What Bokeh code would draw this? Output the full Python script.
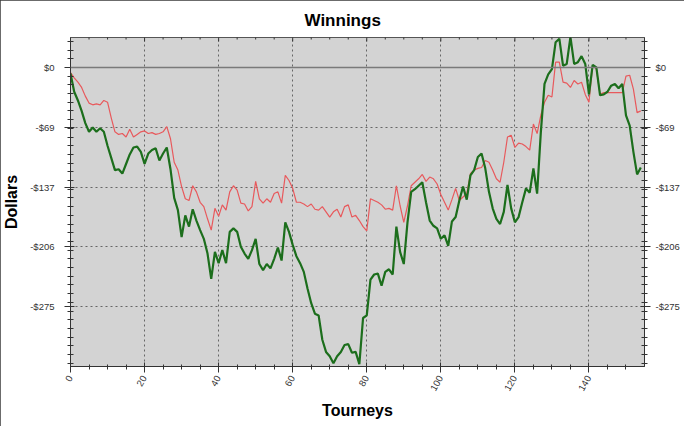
import math
from bokeh.plotting import figure
from bokeh.models import Range1d, FixedTicker, LinearAxis, Span
from bokeh.embed import file_html
from bokeh.resources import INLINE

# ---- data ----
winnings = [
    -7, -28, -38, -50, -64, -74, -69, -74, -70, -74,
    -90, -104, -118, -117, -122, -111, -100, -92, -91, -97,
    -111, -99, -95, -93, -107, -99, -92, -117, -150, -164,
    -195, -170, -183, -163, -176, -187, -197, -214, -243, -212,
    -225, -210, -225, -189, -185, -189, -206, -214, -220, -210,
    -197, -226, -233, -226, -231, -220, -207, -222, -178, -189,
    -204, -217, -225, -235, -254, -271, -283, -285, -313, -327,
    -332, -340, -332, -327, -319, -318, -328, -327, -341, -288,
    -285, -244, -238, -237, -251, -235, -232, -238, -183, -212,
    -226, -178, -143, -140, -136, -132, -155, -176, -182, -185,
    -197, -193, -205, -177, -172, -153, -137, -152, -124, -118,
    -103, -99, -116, -143, -162, -174, -180, -166, -135, -162,
    -178, -172, -155, -139, -144, -116, -145, -75, -19, -8,
    -2, 29, 33, 2, 4, 35, 4, 6, 13, 4,
    -31, 3, 0, -32, -31, -28, -21, -19, -24, -19,
    -55, -67, -97, -123, -115,
]
expected = [
    -6, -12, -17, -23, -33, -41, -43, -42, -43, -38,
    -40, -58, -74, -77, -76, -80, -71, -80, -77, -74,
    -73, -76, -75, -77, -76, -74, -68, -82, -109, -118,
    -137, -151, -153, -136, -143, -155, -160, -174, -187, -162,
    -171, -158, -164, -143, -136, -141, -156, -157, -165, -160,
    -131, -151, -156, -151, -155, -145, -143, -156, -124, -130,
    -139, -155, -155, -157, -160, -157, -163, -164, -160, -166,
    -172, -166, -163, -172, -160, -158, -172, -170, -176, -183,
    -188, -151, -153, -155, -158, -163, -162, -164, -136, -159,
    -178, -159, -136, -132, -128, -123, -131, -126, -128, -134,
    -146, -155, -164, -152, -139, -153, -149, -145, -122, -118,
    -116, -115, -107, -109, -118, -128, -132, -109, -80, -78,
    -92, -87, -88, -91, -95, -65, -76, -55, -40, -32,
    -34, 6, 6, -17, -18, -23, -15, -19, -17, -31,
    -40, 2, -2, -31, -29, -29, -29, -29, -29, -29,
    -10, -9, -25, -52, -50,
]
tourneys = list(range(len(winnings)))

x_ticks = [0, 20, 40, 60, 80, 100, 120, 140]
x_minor_ticks = [5, 10, 15, 25, 30, 35, 45, 50, 55, 65, 70, 75,
                 85, 90, 95, 105, 110, 115, 125, 130, 135, 145, 150]
y_ticks = [0, -68.75, -137.5, -206.25, -275]
y_tick_labels = ["$0", "-$69", "-$137", "-$206", "-$275"]
y_minor_ticks = [30, 20, 10, 0, -10, -20, -30, -40, -50, -60, -70, -80, -90,
                 -100, -110, -120, -130, -140, -150, -160, -170, -180, -190,
                 -200, -210, -220, -230, -240, -250, -260, -270, -280, -290,
                 -300, -310, -320, -330, -340]
x_range = (0, 155)
y_range = (-343.75, 34.375)

FONT = "Liberation Sans"
AX = "#333333"

p = figure(width=684, height=426,
           x_range=Range1d(*x_range), y_range=Range1d(*y_range),
           output_backend="svg", toolbar_location=None,
           min_border_left=66, min_border_right=40,
           min_border_top=37, min_border_bottom=60,
           background_fill_color="#d3d3d3", border_fill_color="white",
           outline_line_color="#555555", outline_line_width=1)
p.styles = {"outline": "1px solid #3a3a3a", "outline-offset": "-1px"}

p.title.text = "Winnings"
p.title.align = "left"
p.title.offset = 234
p.title.vertical_align = "bottom"
p.title.standoff = 15
p.title.text_font = FONT
p.title.text_font_size = "17px"
p.title.text_font_style = "bold"
p.title.text_color = "black"

xt = FixedTicker(ticks=x_ticks, minor_ticks=x_minor_ticks)
yt = FixedTicker(ticks=y_ticks, minor_ticks=y_minor_ticks)
ylab = {t: l for t, l in zip(y_ticks, y_tick_labels)}

def style_axis(ax):
    ax.axis_line_color = AX
    ax.major_tick_line_color = AX
    ax.minor_tick_line_color = AX
    ax.major_label_text_font = FONT
    ax.major_label_text_font_size = "9.5px"
    ax.major_label_text_color = "#333333"
    ax.axis_label_text_font = FONT
    ax.axis_label_text_font_size = "16px"
    ax.axis_label_text_font_style = "bold"
    ax.axis_label_text_color = "black"

# bottom axis
xa = p.below[0]
xa.ticker = xt
style_axis(xa)
xa.axis_label = "Tourneys"
xa.major_label_orientation = math.pi / 3
xa.major_tick_in = 4
xa.major_tick_out = 6
xa.minor_tick_in = 2
xa.minor_tick_out = 3
xa.major_label_standoff = 4
xa.axis_label_standoff = 6

# left axis
ya = p.left[0]
ya.ticker = yt
style_axis(ya)
ya.axis_label = "Dollars"
ya.major_label_overrides = ylab
ya.major_tick_in = 4
ya.major_tick_out = 6
ya.minor_tick_in = 3
ya.minor_tick_out = 3
ya.major_label_standoff = 10
ya.axis_label_standoff = 7

# right axis
ra = LinearAxis(ticker=yt, major_label_overrides=ylab)
style_axis(ra)
ra.major_tick_in = 4
ra.major_tick_out = 6
ra.minor_tick_in = 3
ra.minor_tick_out = 3
ra.major_label_standoff = 5
p.add_layout(ra, "right")

# grid
p.xgrid.ticker = xt
p.ygrid.ticker = yt
for g in (p.xgrid, p.ygrid):
    g.grid_line_color = "#4a4a4a"
    g.grid_line_dash = "2 3"
    g.grid_line_width = 0.8

p.add_layout(Span(location=0, dimension="width", line_color="#7a7a7a",
                  line_width=1.5))

p.line(tourneys, expected, line_color="#e8595c", line_width=1.2)
p.line(tourneys, winnings, line_color="#1c6e1c", line_width=2.2)

# tick marks along the top edge of the plot area (inside)
p.scatter(x_ticks, [y_range[1]] * len(x_ticks), marker="dash", size=8,
          angle=math.pi / 2, line_color=AX, line_width=1)
p.scatter(x_minor_ticks, [y_range[1]] * len(x_minor_ticks), marker="dash",
          size=4, angle=math.pi / 2, line_color=AX, line_width=1)

open("out.html", "w").write(file_html(p, INLINE))
